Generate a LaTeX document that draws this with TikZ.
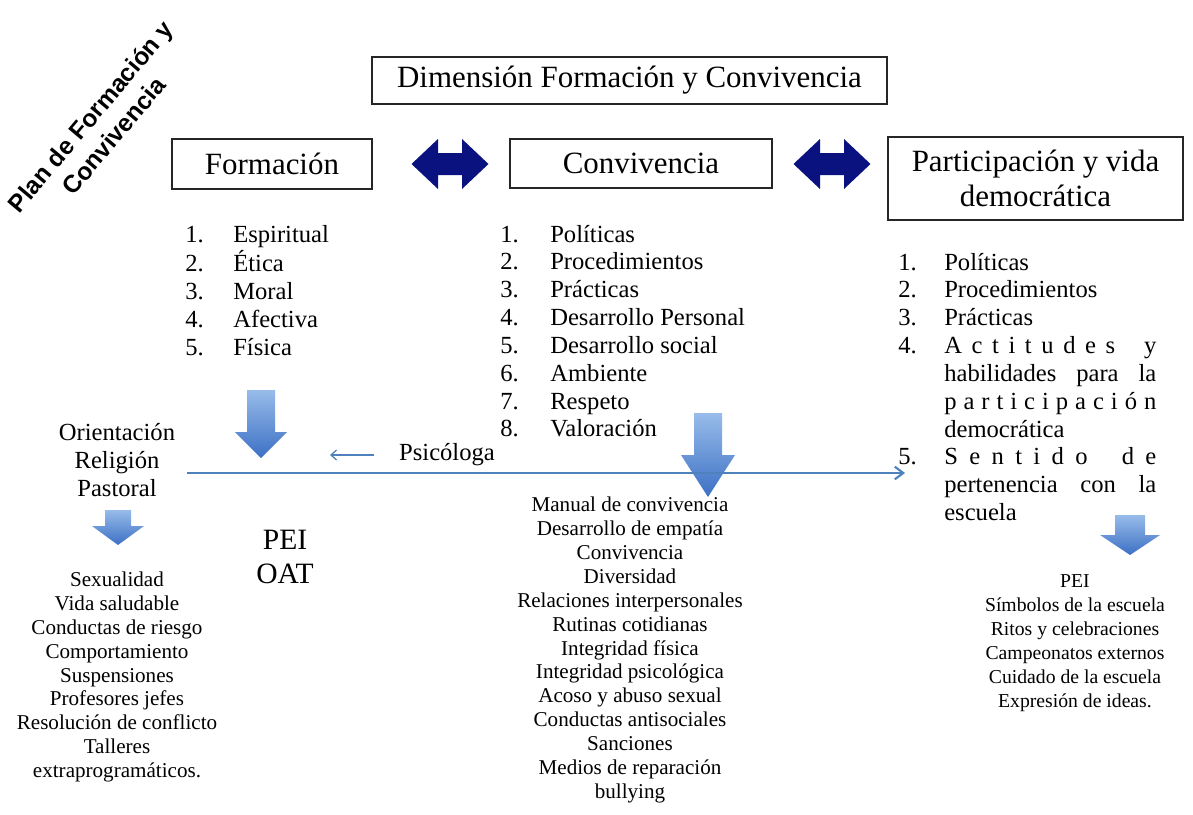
\documentclass[tikz,border=0pt]{standalone}
\usepackage{fontspec}
\setmainfont{Liberation Serif}
\newfontfamily\planfont{Liberation Sans}
\usetikzlibrary{arrows.meta}

\definecolor{navyarrow}{RGB}{10,18,128}
\definecolor{lineblue}{RGB}{79,129,189}
\definecolor{arrowtop}{RGB}{152,188,234}
\definecolor{arrowbot}{RGB}{60,112,196}

\tikzset{
	box/.style={draw=black!85, line width=0.8pt, inner sep=0pt, align=center,
		font=\fontsize{22}{25}\selectfont},
	numlist/.style={inner sep=0pt, anchor=base west, font=\fontsize{17.5}{19.8}\selectfont},
	sublist/.style={inner sep=0pt, align=center, font=\fontsize{15}{17}\selectfont},
	blockarrow/.style={top color=arrowtop, bottom color=arrowbot, draw=none},
	dblarrow/.style={fill=navyarrow, draw=none},
	timeline/.style={draw=lineblue, line width=1.5pt, -{Straight Barb[length=6pt,width=9pt]}},
	psicarrow/.style={draw=lineblue, line width=0.9pt, -{Straight Barb[length=4pt,width=7pt]}},
}
% spreads one line of the justified list over the column
\newcommand{\spreadline}[1]{\hbox to 5.3cm{#1}}

\begin{document}
\begin{tikzpicture}[x=0.025cm, y=-0.025cm]
	\useasboundingbox (0,0) rectangle (1193,815);
	\newcommand{\dblArrow}[2]{
		% draws the navy double arrow between two boxes
		% args:
		%     x of centre
		%     y of centre
		\fill[dblarrow] (#1-38.5,#2) -- (#1-12,#2-25) -- (#1-12,#2-11) -- (#1+12,#2-11)
			-- (#1+12,#2-25) -- (#1+38.5,#2) -- (#1+12,#2+25) -- (#1+12,#2+11)
			-- (#1-12,#2+11) -- (#1-12,#2+25) -- cycle;
	}
	\newcommand{\downArrow}[6]{
		% draws a shaded block arrow pointing down
		% args:
		%     x of centre
		%     top of shaft
		%     where the head starts
		%     tip
		%     half width of shaft
		%     half width of head
		\path[blockarrow] (#1-#5,#2) -- (#1+#5,#2) -- (#1+#5,#3) -- (#1+#6,#3)
			-- (#1,#4) -- (#1-#6,#3) -- (#1-#5,#3) -- cycle;
	}
	% turned title
	\node[rotate=50, align=center, inner sep=0pt,
		font=\planfont\bfseries\fontsize{17.5}{21.5}\selectfont] (plan_title) at (102,126)
		{Plan de Formación y\\Convivencia};
	% boxes
	\node[box, line width=1.8pt, minimum width=12.875cm, minimum height=1.175cm]
		(dim_box) at (629.5,80.5) {Dimensión Formación y Convivencia};
	\node[box, minimum width=5cm, minimum height=1.25cm]
		(formacion_box) at (272,164) {Formación};
	\node[box, minimum width=6.55cm, minimum height=1.225cm]
		(convivencia_box) at (641,163.5) {Convivencia};
	\node[box, minimum width=7.375cm, minimum height=2.075cm]
		(participacion_box) at (1035.5,178.5) {Participación y vida\\democrática};
	\dblArrow{450}{164}
	\dblArrow{832}{164}
	% numbered lists
	\node[numlist] (formacion_list) at (185,242) {%
		\begin{tabular}[t]{@{}p{1.2cm}@{}l@{}}
			1. & Espiritual\\ 2. & Ética\\ 3. & Moral\\ 4. & Afectiva\\ 5. & Física
		\end{tabular}};
	\node[numlist] (convivencia_list) at (500,242) {%
		\begin{tabular}[t]{@{}p{1.25cm}@{}l@{}}
			1. & Políticas\\ 2. & Procedimientos\\ 3. & Prácticas\\
			4. & Desarrollo Personal\\ 5. & Desarrollo social\\ 6. & Ambiente\\
			7. & Respeto\\ 8. & Valoración
		\end{tabular}};
	\node[numlist] (participacion_list) at (898,270) {%
		\begin{tabular}[t]{@{}p{1.15cm}@{}l@{}}
			1. & Políticas\\ 2. & Procedimientos\\ 3. & Prácticas\\
			4. & \spreadline{A\hfill c\hfill t\hfill i\hfill t\hfill u\hfill d\hfill e\hfill s\hfill\hfill\hfill y}\\
			& \spreadline{habilidades\hfill para\hfill la}\\
			& \spreadline{p\hfill a\hfill r\hfill t\hfill i\hfill c\hfill i\hfill p\hfill a\hfill c\hfill i\hfill ó\hfill n}\\
			& democrática\\
			5. & \spreadline{S\hfill e\hfill n\hfill t\hfill i\hfill d\hfill o\hfill\hfill\hfill d\hfill e}\\
			& \spreadline{pertenencia\hfill con\hfill la}\\
			& escuela
		\end{tabular}};
	% block arrows
	\downArrow{261}{390}{432}{458}{14}{26}
	\downArrow{708}{413}{455}{497}{14}{27}
	\downArrow{118}{510}{526}{545}{13}{26}
	\downArrow{1130}{515}{535}{555}{15}{30}
	% line with psicologa
	\node[inner sep=0pt, font=\fontsize{17.5}{19.8}\selectfont] (psicologa) at (447,455) {Psicóloga};
	\coordinate (psic_tip) at (330,455);
	\draw[psicarrow, shorten <=0.62cm] (psicologa.west) -- (psic_tip);
	\coordinate (line_start) at (187,473);
	\coordinate (line_end) at (905,473);
	\draw[timeline] (line_start) -- (line_end);
	% left side
	\node[inner sep=0pt, align=center, font=\fontsize{17.5}{19.6}\selectfont]
		(orientacion) at (117,460) {Orientación\\Religión\\Pastoral};
	\node[inner sep=0pt, align=center, font=\fontsize{21}{24.5}\selectfont]
		(pei_oat) at (285,557) {PEI\\OAT};
	\node[sublist] (orientacion_sub) at (117,677) {Sexualidad\\Vida saludable\\Conductas de riesgo\\
		Comportamiento\\Suspensiones\\Profesores jefes\\Resolución de conflicto\\
		Talleres\\extraprogramáticos.};
	\node[sublist] (convivencia_sub) at (630,650) {Manual de convivencia\\Desarrollo de empatía\\
		Convivencia\\Diversidad\\Relaciones interpersonales\\Rutinas cotidianas\\
		Integridad física\\Integridad psicológica\\Acoso y abuso sexual\\
		Conductas antisociales\\Sanciones\\Medios de reparación\\bullying};
	\node[sublist, font=\fontsize{14}{17}\selectfont] (participacion_sub) at (1075,643)
		{PEI\\Símbolos de la escuela\\Ritos y celebraciones\\Campeonatos externos\\
		Cuidado de la escuela\\Expresión de ideas.};
\end{tikzpicture}
\end{document}
